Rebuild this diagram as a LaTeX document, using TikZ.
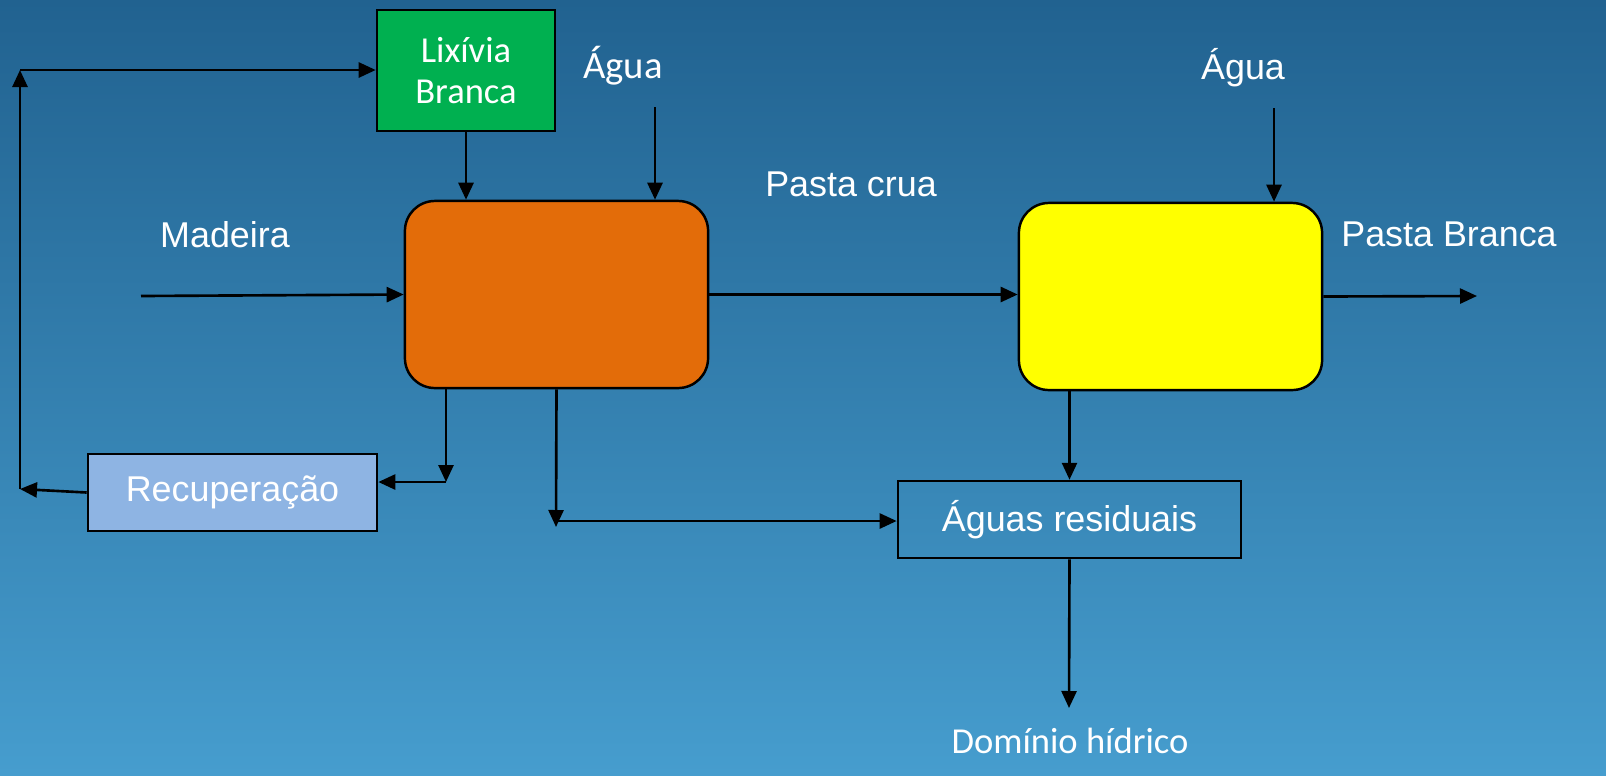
\documentclass[tikz,border=0pt]{standalone}
\usepackage{fontspec}
\setmainfont{Liberation Sans}
\newfontfamily\calib{Carlito}
\usetikzlibrary{arrows.meta}
\definecolor{bgtop}{RGB}{33,98,144}
\definecolor{bgbot}{RGB}{70,157,206}
\definecolor{lixgreen}{RGB}{0,176,80}
\definecolor{pastaorange}{RGB}{227,108,9}
\definecolor{pastayellow}{RGB}{255,255,0}
\definecolor{recblue}{RGB}{142,180,227}
\tikzset{
  box/.style={draw=black, line width=0.7pt, inner sep=0pt, text=white},
  lbl/.style={text=white, inner sep=0pt},
  flow/.style={line width=0.75pt, -{Triangle[length=0.17cm, width=0.15cm]}}
}
\begin{document}
\begin{tikzpicture}[x=0.01cm, y=-0.01cm, font=\fontsize{10.2}{12.2}\selectfont]
\useasboundingbox (0,0) rectangle (1606,775);
\shade [top color=bgtop, bottom color=bgbot] (0,0) rectangle (1606,775);

  \node [box, fill=lixgreen, minimum width=1.78cm, minimum height=1.21cm, align=center,
    font=\calib\fontsize{10.4}{11.6}\selectfont] (lix) at (466, 70.5) {Lixívia\\Branca};
  \node [box, fill=pastaorange, rounded corners=0.3cm, minimum width=3.03cm, minimum height=1.87cm] (cozimento) at (556.5, 294.5) {};
  \node [box, fill=pastayellow, rounded corners=0.3cm, minimum width=3.03cm, minimum height=1.87cm] (branqueamento) at (1170.5, 296.5) {};
  \node [box, fill=recblue, minimum width=2.89cm, minimum height=0.77cm] (rec) at (232.5, 492.5) {Recuperação};
  \node [box, minimum width=3.43cm, minimum height=0.77cm] (res) at (1069.5, 519.5) {Águas residuais};

  \node [lbl] (madeira) at (225, 235) {Madeira};
  \node [lbl, font=\calib\fontsize{11}{13}\selectfont] (agua1) at (623, 66) {Água};
  \node [lbl] (crua) at (851, 184) {Pasta crua};
  \node [lbl] (agua2) at (1243, 68) {Água};
  \node [lbl] (branca) at (1449, 234) {Pasta Branca};
  \node [lbl, font=\calib\fontsize{10.4}{12}\selectfont] (dominio) at (1070, 741) {Domínio hídrico};

  \coordinate (mad) at (141, 296);
  \coordinate (a1) at (655, 107);
  \coordinate (a2) at (1274, 108);
  \coordinate (out) at (1477, 296);
  \coordinate (dl) at (446, 482);
  \coordinate (dm) at (556, 521);
  \coordinate (rl) at (20, 489);
  \coordinate (ru) at (20, 70);
  \coordinate (dh) at (1069, 708);

  \draw [flow] (mad) -- (cozimento.west);
  \draw [flow] (lix.south) -- (lix.south |- cozimento.north);
  \draw [flow] (a1) -- (a1 |- cozimento.north);
  \draw [flow] (cozimento.east) -- (cozimento.east -| branqueamento.west);
  \draw [flow] (a2) -- (a2 |- branqueamento.north);
  \draw [flow] (branqueamento.east) -- (out);
  \draw [flow] (dl |- cozimento.south) -- (dl);
  \draw [flow] (dl) -- (dl -| rec.east);
  \draw [flow] (rec.west) -- (rl);
  \draw [flow] (rl) -- (ru);
  \draw [flow] (ru) -- (ru -| lix.west);
  \draw [flow] (cozimento.south) -- ([yshift=-0.06cm]dm);
  \draw [flow] (dm) -- (dm -| res.west);
  \draw [flow] (res.north |- branqueamento.south) -- (res.north);
  \draw [flow] (res.south) -- (dh);
\end{tikzpicture}
\end{document}
